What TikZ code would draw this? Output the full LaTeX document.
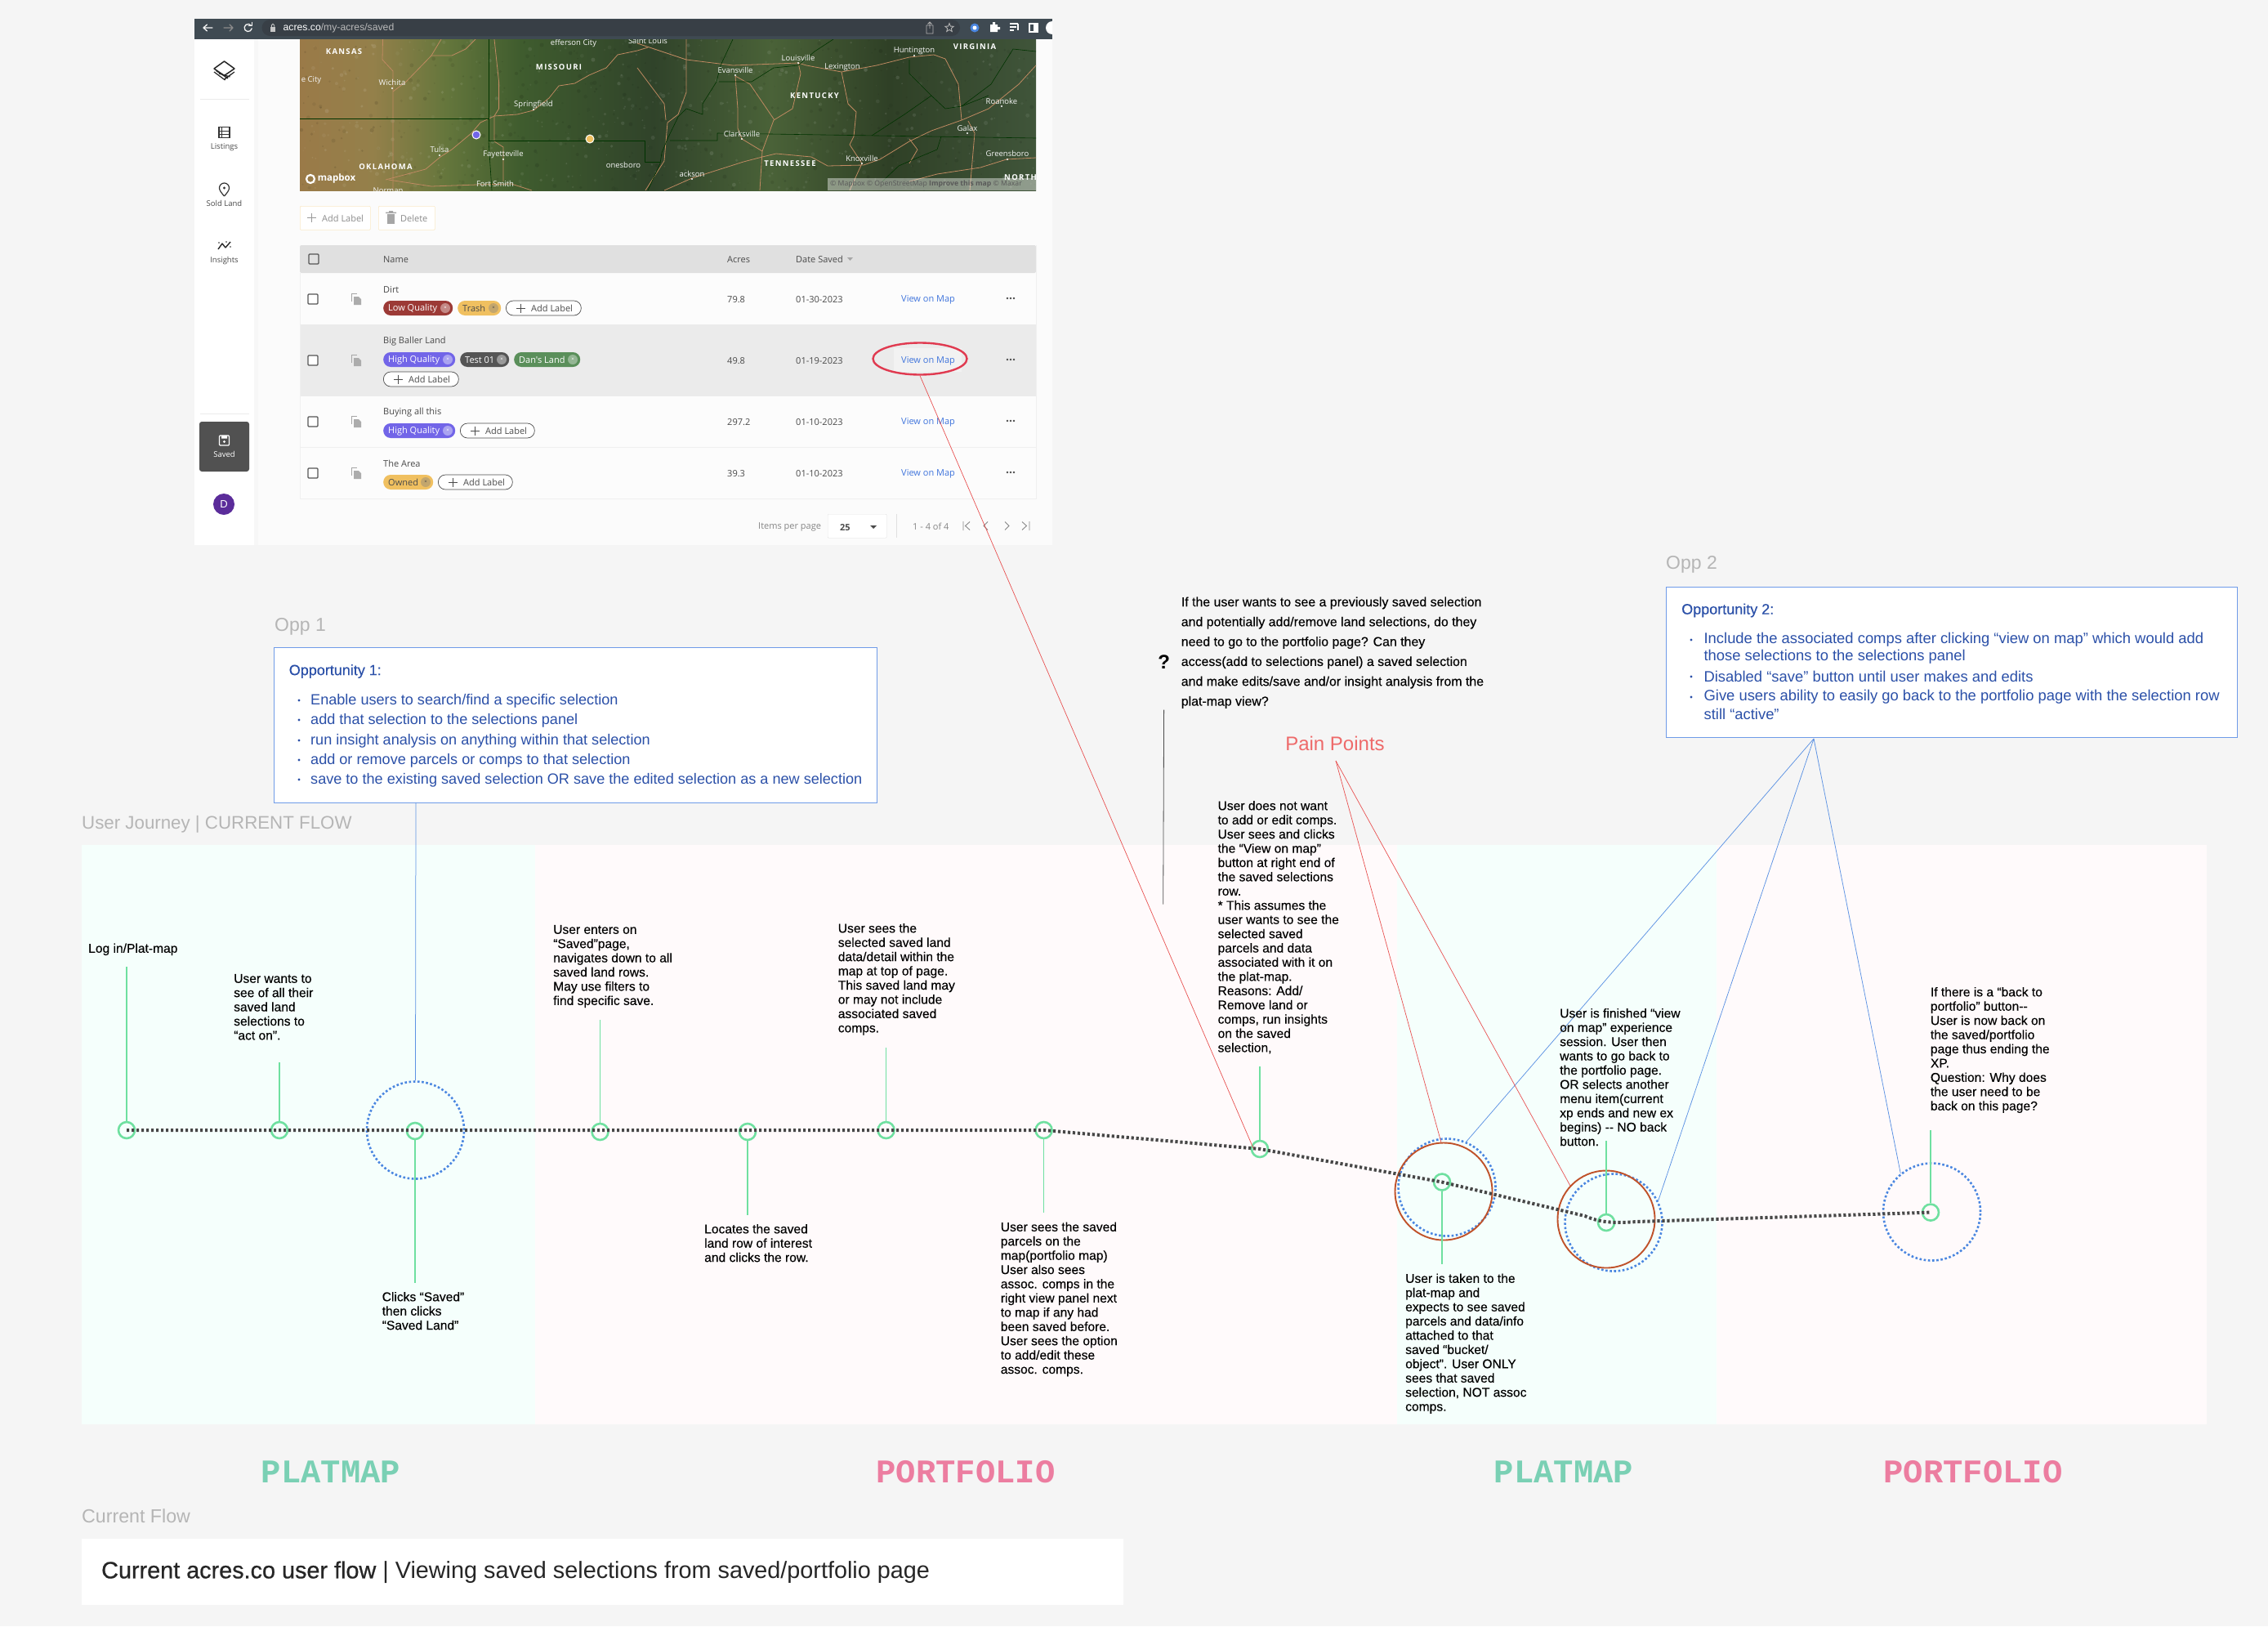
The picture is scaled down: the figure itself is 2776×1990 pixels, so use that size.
\documentclass[tikz,border=0pt]{standalone}
\usepackage{fontspec}
\usetikzlibrary{shapes.geometric,calc}
\setmainfont{Liberation Sans}
\newfontfamily\notef[FakeBold=0.25]{Liberation Sans}
\newfontfamily\captf[FakeBold=0.7]{Liberation Sans}
\newfontfamily\uifont{Open Sans}
\newfontfamily\statefont[LetterSpace=14]{Open Sans}
\newfontfamily\monof{Liberation Mono}
\definecolor{bg}{HTML}{F5F5F5}
\definecolor{mint}{HTML}{F5FFFC}
\definecolor{blush}{HTML}{FFFAFB}
\definecolor{oppblue}{HTML}{2B50A8}
\definecolor{oppline}{HTML}{6F9BE8}
\definecolor{labelgrey}{HTML}{B5B5B5}
\definecolor{stepgreen}{HTML}{6FE0A0}
\definecolor{dotblue}{HTML}{4A86E0}
\definecolor{burnt}{HTML}{C0522A}
\definecolor{painred}{HTML}{E85050}
\definecolor{painlabel}{HTML}{EE6A6A}
\definecolor{road}{HTML}{C08A62}
\definecolor{uitext}{HTML}{4A4A4A}
\definecolor{link}{HTML}{3F74DC}
\definecolor{lowq}{HTML}{9C3A36}
\definecolor{gold}{HTML}{F0C060}
\definecolor{violet}{HTML}{7265E8}
\definecolor{slate}{HTML}{555555}
\definecolor{leaf}{HTML}{5A8F5A}
\definecolor{chrome}{HTML}{3F4A52}
\definecolor{chromepill}{HTML}{383F46}
\definecolor{ringred}{HTML}{E03A50}
\definecolor{wordgreen}{HTML}{7AD0B4}
\definecolor{wordpink}{HTML}{EC7DA0}
\definecolor{avatarc}{HTML}{5B2C9A}
\definecolor{mapa}{HTML}{9A7A48}
\definecolor{mapb}{HTML}{94804A}
\definecolor{mapc}{HTML}{64763C}
\definecolor{mapd}{HTML}{3F5C2E}
\definecolor{mape}{HTML}{30432A}
\definecolor{mapf}{HTML}{4A6238}
\definecolor{mapg}{HTML}{2F4026}
\definecolor{maph}{HTML}{40553A}
\pgfdeclarehorizontalshading{mapshade}{100bp}{color(0bp)=(mapa);
 color(25bp)=(mapa); color(30bp)=(mapb); color(35bp)=(mapc); color(40bp)=(mapd);
 color(49bp)=(mape); color(57bp)=(mapf); color(65bp)=(mapg); color(75bp)=(maph); color(100bp)=(maph)}
\newcounter{nid}
\newcommand\tnode[3][]{\stepcounter{nid}\node (t\thenid) [#1] at (#2) {#3};}
\newcommand\uichip[7]{% x1,x2,y,fill,text colour,text,badge
 \stepcounter{nid}\node (chip\thenid) [chipbox,fill=#4,minimum width=#2pt-#1pt,anchor=west] at (#1,#3) {};
 \node (chipt\thenid) [font=\uifont\fontsize{11}{12}\selectfont,text=#5,anchor=west,inner sep=0,yshift=-.5pt] at ($(#1,#3)+(6,0)$) {#6};
 \node (chipx\thenid) [circle,fill=#7,inner sep=0,minimum size=12pt,text=#5,font=\uifont\fontsize{6}{6}\selectfont] at ($(#2,#3)+(-9,0)$) {×};
}
\newcommand\addlabel[3]{% x1,x2,y
 \stepcounter{nid}\node (add\thenid) [chipbox,draw=uitext,fill=white,line width=.7pt,minimum width=#2pt-#1pt,anchor=west] at (#1,#3) {};
 \node (addt\thenid) [font=\uifont\fontsize{11}{12}\selectfont,text=uitext,anchor=west,inner sep=0,yshift=-.5pt] at ($(#1,#3)+(31,0)$) {Add Label};
 \draw[uitext,line width=.9pt] ($(#1,#3)+(13,0)$) -- +(11,0) ($(#1,#3)+(18.5,-5.5)$) -- +(0,11);
}
\newcommand\rowbits[2]{% y of box, y of dots
 \stepcounter{nid}
 \node (cb\thenid) [draw=slate,line width=1.3pt,fill=white,rounded corners=1pt,minimum size=12pt,inner sep=0] at (383,#1) {};
 \fill[gray!65] (433,#1-3) -- (439,#1-3) -- (442,#1) -- (442,#1+7) -- (433,#1+7) -- cycle;
 \draw[gray!70,line width=.8pt] (430,#1+3) -- (430,#1-7) -- (437,#1-7);
 \fill[uitext] (1233,#2) circle (1.3) (1237,#2) circle (1.3) (1241,#2) circle (1.3);
}
\tikzset{
 x=1pt,y=-1pt,
 chipbox/.style={rounded corners=8.9pt,minimum height=18pt,inner sep=0},
 cell/.style={font=\uifont\fontsize{11}{12}\selectfont,text=uitext,anchor=west,inner sep=0,yshift=-.8pt},
 viewlink/.style={font=\uifont\fontsize{11}{12}\selectfont,text=link,anchor=west,inner sep=0,yshift=-1pt},
 side/.style={font=\uifont\fontsize{9.5}{11}\selectfont,text=uitext,inner sep=0},
 city/.style={font=\uifont\fontsize{9.5}{11}\selectfont,text=white!92!gray,inner sep=0},
 usstate/.style={font=\statefont\bfseries\fontsize{9.5}{11}\selectfont,text=white,inner sep=0},
 note/.style={anchor=north west,align=left,inner sep=0,text=black,yshift=1.2pt,font=\notef\fontsize{15.6}{17.42}\selectfont},
 sectionlbl/.style={anchor=west,inner sep=0,text=labelgrey},
 oppbox/.style={draw=oppline,fill=white,line width=1.3pt,inner sep=0,anchor=north west},
 opptxt/.style={anchor=west,inner sep=0,text=oppblue,font=\fontsize{18.1}{21}\selectfont,yshift=-1pt},
 opptxtb/.style={anchor=west,inner sep=0,text=oppblue,font=\fontsize{18.4}{21}\selectfont},
 opphead/.style={anchor=west,inner sep=0,text=oppblue,font=\notef\fontsize{18}{21}\selectfont},
 oppdot/.style={circle,fill=oppblue,inner sep=0,minimum size=3.4pt},
 stepdot/.style={circle,draw=stepgreen,line width=2.6pt,minimum size=20pt,inner sep=0},
 stepline/.style={draw=stepgreen,line width=1.5pt},
 flowline/.style={draw=black!72,line width=4pt,dash pattern=on 3.2pt off 2.8pt},
 dotring/.style={circle,draw=dotblue,line width=2.6pt,dash pattern=on 2.6pt off 2.6pt,minimum size=119pt,inner sep=0},
 painring/.style={circle,draw=burnt,line width=1.9pt,minimum size=119pt,inner sep=0},
 bluelink/.style={draw=dotblue!90,line width=.75pt},
 redlink/.style={draw=painred,line width=.7pt},
 bigword/.style={font=\monof\bfseries\fontsize{40.5}{44}\selectfont,inner sep=0},
 roadline/.style={road,line width=.8pt,line join=round},
 blackline/.style={black!80!green,line width=.6pt,line join=round},
}
\begin{document}
\begin{tikzpicture}
\useasboundingbox (0,0) rectangle (2776,1990);
\fill[bg] (0,0) rectangle (2776,1990);

%% ---------- app screenshot ----------
\fill[white!98.5!black] (238,22) rectangle (1288,667);
\fill[white] (238,48) rectangle (311,667);
\fill[black!3] (311,48) rectangle (316,667);
% map
\begin{scope}
 \clip (367,48) rectangle (1268,233);
 \shade[shading=mapshade] (367,48) rectangle (1268,233);
 \pgfmathsetseed{7}
 \foreach \k in {1,...,900}{
  \pgfmathsetmacro\px{367+rnd*901}
  \pgfmathsetmacro\py{48+rnd*185}
  \pgfmathsetmacro\pr{0.6+rnd*2}
  \pgfmathsetmacro\po{0.04+rnd*0.07}
  \ifodd\k\relax\fill[black,opacity=\po] (\px,\py) circle (\pr);\else\fill[white,opacity=\po] (\px,\py) circle (\pr);\fi
 }
 \draw[roadline] (468.5,48) -- (468,73) -- (481,87) -- (481,108) -- (481,233);
 \draw[roadline] (540,48) -- (528,68) -- (497,100) -- (481,112);
 \draw[roadline] (528,68) -- (553,68) -- (570,60) -- (582,48);
 \draw[roadline] (472,220) -- (521,207) -- (539,192) -- (553,183) -- (577,163) -- (588,150) -- (605,142) -- (633,140) -- (653,135) -- (672,120) -- (684,105) -- (703.5,102) -- (721,92) -- (742,83) -- (756,67) -- (780,62) -- (793,58);
 \draw[roadline] (605,48) -- (610.6,100) -- (610.6,133) -- (605,142) -- (605,173) -- (616,180) -- (616,222);
 \draw[roadline] (475.5,220) -- (528,228) -- (584,226) -- (626,225) -- (651,233);
 \draw[roadline] (780,53) -- (840,73) -- (897,80) -- (977,77) -- (987,80) -- (1030,88) -- (1073,80) -- (1113,70) -- (1143,67) -- (1157,72) -- (1173,103) -- (1177,147) -- (1140,160) -- (1113,173) -- (1077,195) -- (1057,202) -- (1013,203) -- (993,192) -- (950,188) -- (933,192) -- (910,198) -- (847,218) -- (813,233);
 \draw[roadline] (900,93) -- (903,133) -- (903,157) -- (908,170) -- (933,185) -- (947,147) -- (970,133) -- (980,90) -- (977,77);
 \draw[roadline] (1030,88) -- (1038,127) -- (1048,137) -- (1045,167) -- (1040,177) -- (1055,200) -- (1040,233);
 \draw[roadline] (1177,147) -- (1210,133) -- (1247,103) -- (1268,80);
 \draw[roadline] (1185,148) -- (1193,163) -- (1187,233);
 \draw[roadline] (1268,193) -- (1232,195) -- (1200,205) -- (1147,213) -- (1113,222);
 \draw[roadline] (840,48) -- (840,113) -- (830,140) -- (817,150) -- (813,197) -- (790,233);
 \draw[roadline] (780,83) -- (813,127) -- (815,147);
 \draw[roadline] (948,147) -- (918,103) -- (900,93);
 \draw[roadline] (1113,170) -- (1123,183) -- (1113,200);
 \draw[roadline] (933,185) -- (930,233);
 \draw[blackline] (367,145) -- (598,145) -- (598,48);
 \draw[blackline] (598,145) -- (598,172) -- (789,172) -- (789,198) -- (808,198);
 \draw[blackline] (598,172) -- (602,233);
 \draw[blackline] (897,48) -- (882,80) -- (877,100) -- (860,127) -- (860,140) -- (840,133) -- (830,143) -- (817,170) -- (810,187) -- (808,200) -- (793,233);
 \draw[blackline] (820,172) -- (878,172) -- (878,163) -- (1268,169);
 \draw[blackline] (1067,166) -- (1107,140) -- (1140,117) -- (1157,133) -- (1177,130) -- (1210,117);
 \draw[blackline] (1113,73) -- (1113,90) -- (1140,117);
 \draw[blackline] (1177,130) -- (1213,103) -- (1240,60) -- (1268,63);
 \draw[blackline] (1152,167) -- (1147,183) -- (1123,193) -- (1100,203) -- (1080,222);
 \draw[blackline] (880,100) -- (920,100) -- (947,83) -- (977,80) -- (997,63) -- (1020,48);
 \tnode[usstate]{421,63}{KANSAS}
 \tnode[city]{381,98}{e City}
 \tnode[city]{480,101}{Wichita}
 \tnode[usstate]{684,82}{MISSOURI}
 \tnode[city]{702,53}{efferson City}
 \tnode[city]{653,128}{Springfield}
 \tnode[city]{538,183}{Tulsa}
 \tnode[city]{616,189}{Fayetteville}
 \tnode[usstate]{472,204}{OKLAHOMA}
 \tnode[city]{475,233}{Norman}
 \tnode[city]{606,225}{Fort Smith}
 \tnode[city]{763,202}{onesboro}
 \tnode[city]{793,50}{Saint Louis}
 \tnode[city]{977,71}{Louisville}
 \tnode[city]{1031,82}{Lexington}
 \tnode[city]{900,86}{Evansville}
 \tnode[city]{1119,62}{Huntington}
 \tnode[usstate]{1193,57}{VIRGINIA}
 \tnode[usstate]{997,117}{KENTUCKY}
 \tnode[city]{1226,124}{Roanoke}
 \tnode[city]{1184,157}{Galax}
 \tnode[city]{908,164}{Clarksville}
 \tnode[usstate]{967,200}{TENNESSEE}
 \tnode[city]{1055,194}{Knoxville}
 \tnode[city]{1233,188}{Greensboro}
 \tnode[city]{847,213}{ackson}
 \tnode[usstate,anchor=west]{1229,217}{NORTH}
 \fill[white] (480,108) circle (1.2) (1119,68) circle (1.2) (977,77) circle (1.2) (900,92) circle (1.2) (908,170) circle (1.2) (1055,200) circle (1.2) (1184,163) circle (1.2) (1233,195) circle (1.2) (538,190) circle (1.2) (616,195) circle (1.2) (653,134) circle (1.2) (1226,130) circle (1.2) (847,219) circle (1.2);
 \fill[white,opacity=.42] (1013,218) rectangle (1268,233);
 \tnode[anchor=west,inner sep=0,text=black!65,font=\uifont\fontsize{8.7}{10}\selectfont]{1016,225.5}{© Mapbox © OpenStreetMap \textbf{Improve this map} © Maxar}
\end{scope}
\node (pinA) [circle,fill=violet,draw=white,line width=1pt,minimum size=10pt,inner sep=0] at (583,165) {};
\node (pinB) [circle,fill=gold,draw=white,line width=1pt,minimum size=10pt,inner sep=0] at (722,170) {};
\node (mbx) [circle,draw=white,line width=2.2pt,minimum size=10pt,inner sep=0] at (380,219) {};
\tnode[inner sep=0,text=white,font=\uifont\bfseries\fontsize{11.5}{13}\selectfont]{412,219}{mapbox}
% browser toolbar
\fill[chrome] (238,22) rectangle (1288,48);
\fill[black!5] (238,21.5) rectangle (1288,22.5);
\fill[chromepill,rounded corners=10pt] (320.5,24) rectangle (1175,44);
\begin{scope}[line width=1.3pt,white!90!gray,line cap=round,line join=round]
 \draw (249,34) -- (260,34) (253.5,30) -- (249,34) -- (253.5,38);
 \draw[gray!90] (274,34) -- (285,34) (281,30) -- (285,34) -- (281,38);
 \draw (303.7,34) ++(10:4.6) arc (10:320:4.6);
 \draw (308.3,27.5) -- (308.3,31.5) -- (304.3,31.5);
\end{scope}
\fill[gray!45] (331,33) rectangle (337,39);
\draw[gray!45,line width=.9pt] (332.3,33) -- (332.3,31) arc (180:360:1.7) -- (335.7,33);
\tnode[anchor=west,inner sep=0,font=\fontsize{12.2}{14}\selectfont]{346.5,34.5}{\textcolor{white}{acres.co}\textcolor{gray!55}{/my-acres/saved}}
\draw[gray!60,line width=.8pt] (1134,31) rectangle (1142,41) (1138,35) -- (1138,27) (1135.5,29.5) -- (1138,27) -- (1140.5,29.5);
\node (favstar) [star,star points=5,star point ratio=2.3,draw=gray!60,line width=.9pt,inner sep=0,minimum size=11pt] at (1162,34) {};
\node (ext1) [circle,fill=dotblue,inner sep=0,minimum size=11pt] at (1193,34) {};
\node (ext1b) [circle,fill=white,inner sep=0,minimum size=5pt] at (1193,34) {};
\fill[white] (1212,30) rectangle (1221,39) (1215,27) rectangle (1218,30) (1221,33) rectangle (1224,36);
\draw[white,line width=1.1pt] (1236,29) -- (1246,29) (1236,33) -- (1244,33) (1236,37) -- (1241,37) (1246,29) -- (1246,37);
\draw[white,line width=1.4pt] (1260,29) rectangle (1270,39);
\fill[white] (1265,29) rectangle (1270,39);
\begin{scope}
 \clip (1280,22) rectangle (1288,48);
 \fill[white] (1288,34) circle (8);
\end{scope}
% buttons
\node (btnAdd) [draw=gold!35,fill=white,line width=.7pt,rounded corners=1pt,anchor=north west,minimum width=86pt,minimum height=29pt,inner sep=0] at (367,252) {};
\node (btnDel) [draw=gold!35,fill=white,line width=.7pt,rounded corners=1pt,anchor=north west,minimum width=69pt,minimum height=29pt,inner sep=0] at (463,252) {};
\draw[gray!80,line width=1pt] (376,266.5) -- (387,266.5) (381.5,261) -- (381.5,272);
\tnode[cell,text=gray!90]{394,266.5}{Add Label}
\fill[gray!70] (474,262) rectangle (483,274);
\fill[gray!70] (472,259.5) rectangle (485,261) (476,258) rectangle (481,259.5);
\tnode[cell,text=gray!90]{490,266.5}{Delete}
% table
\fill[white!99!black] (367,300) rectangle (1268,610);
\fill[black!12,rounded corners=2pt] (367,300) rectangle (1268,334);
\fill[black!8] (367,397) rectangle (1268,485);
\draw[black!6,line width=.8pt] (367,334) -- (367,610) -- (1268,610) -- (1268,300);
\draw[black!6,line width=.8pt] (367,547.5) -- (1268,547.5);
\node (hdrBox) [draw=slate,line width=1.3pt,rounded corners=1pt,minimum size=12pt,inner sep=0] at (384,317) {};
\tnode[cell]{469,317}{Name}
\tnode[cell]{890,317}{Acres}
\tnode[cell]{974,317}{Date Saved}
\fill[gray!70] (1037,315) -- (1044,315) -- (1040.5,319) -- cycle;
\rowbits{366}{365}
\rowbits{441}{440}
\rowbits{516}{515}
\rowbits{579}{578}
\tnode[cell]{469,354}{Dirt}
\tnode[cell]{469,417}{Big Baller Land}
\tnode[cell]{469,504}{Buying all this}
\tnode[cell]{469,567}{The Area}
\uichip{469}{554}{377}{lowq}{white}{Low Quality}{lowq!60!white}
\uichip{560}{613}{377}{gold}{uitext}{Trash}{gold!60!gray}
\addlabel{619}{711}{377}
\uichip{469}{557}{440}{violet}{white}{High Quality}{violet!60!white}
\uichip{563}{623}{440}{slate}{white}{Test 01}{slate!60!white}
\uichip{629}{710}{440}{leaf}{white}{Dan's Land}{leaf!65!white}
\addlabel{469}{561}{464}
\uichip{469}{557}{527}{violet}{white}{High Quality}{violet!60!white}
\addlabel{563}{654}{527}
\uichip{469}{530}{590}{gold}{uitext}{Owned}{gold!60!gray}
\addlabel{536}{627}{590}
\tnode[cell]{890,366}{79.8}
\tnode[cell]{890,441}{49.8}
\tnode[cell]{890,516}{297.2}
\tnode[cell]{890,579}{39.3}
\tnode[cell]{974,366}{01-30-2023}
\tnode[cell]{974,441}{01-19-2023}
\tnode[cell]{974,516}{01-10-2023}
\tnode[cell]{974,579}{01-10-2023}
\fill[black!5] (1094,426) rectangle (1177,455);
\tnode[viewlink]{1103,366}{View on Map}
\tnode[viewlink]{1103,441}{View on Map}
\tnode[viewlink]{1103,516}{View on Map}
\tnode[viewlink]{1103,579}{View on Map}
\node (vomRing) [ellipse,draw=ringred,line width=2.4pt,minimum width=115pt,minimum height=39pt,inner sep=0] at (1126,439) {};
% pagination
\tnode[cell,text=gray!95]{928,644}{Items per page}
\node (pgSel) [draw=black!12,fill=white,rounded corners=1pt,anchor=north west,minimum width=72pt,minimum height=29pt,inner sep=0] at (1013,629) {};
\tnode[cell]{1028,644.5}{\textbf{25}}
\fill[uitext] (1065,643) -- (1073,643) -- (1069,647) -- cycle;
\draw[black!12,line width=.7pt] (1097,629) -- (1097,658);
\tnode[cell,text=gray!95]{1117,644}{1 - 4 of 4}
\draw[gray!95,line width=.9pt] (1179,638) -- (1179,649) (1187,638.5) -- (1181.5,643.5) -- (1187,648.5);
\draw[gray!95,line width=.9pt] (1209,638.5) -- (1204,643.5) -- (1209,648.5);
\draw[gray!95,line width=.9pt] (1230,638.5) -- (1235,643.5) -- (1230,648.5);
\draw[gray!95,line width=.9pt] (1251,638.5) -- (1256.5,643.5) -- (1251,648.5) (1260,638) -- (1260,649);
% sidebar
\draw[black!8,line width=.8pt] (245,121) -- (305,121) (245,506) -- (305,506);
\begin{scope}[line join=round]
 \draw[black!85,line width=1.5pt] (274.5,75) -- (287,84) -- (274.5,92.5) -- (262,84) -- cycle;
 \draw[black!85,line width=1.2pt] (262,88) -- (275.5,98) (264.5,86.5) -- (279,96) (268,90) -- (281.5,94) (283,91) -- (275,97) (287,88) -- (274.5,97);
\end{scope}
\draw[black!80,line width=1.1pt] (268,155.5) rectangle (281,168.5);
\draw[black!80,line width=.8pt] (268,160) -- (281,160) (268,164) -- (281,164) (271.5,155.5) -- (271.5,168.5);
\tnode[side]{274.5,180}{Listings}
\draw[black!80,line width=1.2pt] (274.5,240) .. controls (271,236) and (268.5,233) .. (268.5,230) arc (180:360:6) .. controls (280.5,233) and (278,236) .. (274.5,240);
\fill[black!80] (274.5,230) circle (1.6);
\tnode[side]{274.5,249}{Sold Land}
\draw[black!85,line width=1.4pt,line join=round] (267,305) -- (272,298) -- (276,303) -- (282,296);
\fill[black!85] (268,297) circle (.9) (277,296) circle (.9) (282,302) circle (.9);
\tnode[side]{274.5,319}{Insights}
\fill[slate!95!black,rounded corners=3pt] (244,516) rectangle (305,577);
\draw[white,line width=1.1pt,rounded corners=1pt] (268.5,533) rectangle (280.5,545);
\fill[white] (274.5,540.5) circle (1.6) (271,533) rectangle (278,536.5);
\tnode[side,text=white]{274.5,556}{Saved}
\node (avatar) [circle,fill=avatarc,minimum size=26pt,inner sep=0,text=white,font=\fontsize{13}{15}\selectfont] at (274,617) {D};

%% ---------- journey bands ----------
\fill[mint] (99.5,1034) rectangle (655,1743);
\fill[blush] (655,1034) rectangle (1710,1743);
\fill[mint] (1710,1034) rectangle (2101,1743);
\fill[blush] (2101,1034) rectangle (2701,1743);

%% ---------- section labels and text boxes ----------
\tnode[sectionlbl,font=\fontsize{23}{26}\selectfont]{336,766.5}{Opp 1}
\tnode[sectionlbl,font=\fontsize{23}{26}\selectfont]{2039,690.5}{Opp 2}
\tnode[sectionlbl,font=\fontsize{22.3}{26}\selectfont]{100,1008.5}{User Journey | CURRENT FLOW}
\tnode[sectionlbl,font=\fontsize{23.2}{26}\selectfont]{100,1855}{Current Flow}

\node (opp1) [oppbox,minimum width=738pt,minimum height=190pt] at (335,792) {};
\tnode[opphead]{353.6,821.5}{Opportunity 1:}
\tnode[oppdot]{366,857}{}\tnode[opptxt]{380,857}{Enable users to search/find a specific selection}
\tnode[oppdot]{366,881}{}\tnode[opptxt]{380,881}{add that selection to the selections panel}
\tnode[oppdot]{366,906}{}\tnode[opptxt]{380,906}{run insight analysis on anything within that selection}
\tnode[oppdot]{366,930}{}\tnode[opptxt]{380,930}{add or remove parcels or comps to that selection}
\tnode[oppdot]{366,954}{}\tnode[opptxt]{380,954}{save to the existing saved selection OR save the edited selection as a new selection}
\node (opp2) [oppbox,minimum width=699pt,minimum height=184pt] at (2039,718) {};
\tnode[opphead]{2058,747}{Opportunity 2:}
\tnode[oppdot]{2070,783}{}\tnode[opptxtb]{2085.4,783}{Include the associated comps after clicking “view on map” which would add}
\tnode[opptxtb]{2085.4,804}{those selections to the selections panel}
\tnode[oppdot]{2070,828}{}\tnode[opptxtb]{2085.4,828}{Disabled “save” button until user makes and edits}
\tnode[oppdot]{2070,853}{}\tnode[opptxtb]{2085.4,853}{Give users ability to easily go back to the portfolio page with the selection row}
\tnode[opptxtb]{2085.4,873.5}{still “active”}

\node (qmark) [inner sep=0,font=\bfseries\fontsize{24}{26}\selectfont] at (1424.6,810) {?};
\node (qtext) [note,font=\notef\fontsize{15.9}{24.3}\selectfont] at (1445.6,731.5) {If the user wants to see a previously saved selection\\and potentially add/remove land selections, do they\\need to go to the portfolio page? Can they\\access(add to selections panel) a saved selection\\and make edits/save and/or insight analysis from the\\plat-map view?};
\node (pain) [inner sep=0,text=painlabel,font=\fontsize{24}{26}\selectfont] at (1634,909.5) {Pain Points};
\coordinate (qtop) at (1424.6,868.6);
\coordinate (qend) at (1423.7,1106.6);
\draw[black!70,line width=.8pt] (qtop) -- (qend);

%% ---------- timeline nodes ----------
\node (s1) [stepdot] at (155,1383) {};
\node (s2) [stepdot] at (342,1383) {};
\node (s3) [stepdot] at (508,1384) {};
\node (s4) [stepdot] at (734.5,1385) {};
\node (s5) [stepdot] at (915,1385) {};
\node (s6) [stepdot] at (1084.6,1383) {};
\node (s7) [stepdot] at (1277.6,1383) {};
\node (s8) [stepdot] at (1542,1406) {};
\node (s9) [stepdot] at (1765,1446.5) {};
\node (s10) [stepdot] at (1966,1496) {};
\node (s11) [stepdot] at (2363,1483.6) {};
\node (c1) [dotring] at (508.5,1383) {};
\node (c2) [dotring] at (1771,1453) {};
\node (c3) [dotring] at (1975,1496) {};
\node (c4) [dotring] at (2364.5,1483) {};
\node (o1) [painring] at (1767,1458) {};
\node (o2) [painring] at (1966,1492) {};

\coordinate (bendA) at (1940,1488);
\coordinate (bendB) at (2003,1495);
\draw[flowline] (s1.center) -- (s7.center) -- (s8.center) -- (s9.center) -- (bendA) .. controls (1958,1496) and (1975,1497) .. (bendB) -- (s11.center);

\coordinate (u1) at (155,1183);
\coordinate (u2) at (342,1300);
\coordinate (d3) at (508,1570);
\coordinate (u4) at (734.5,1248);
\coordinate (d5) at (915,1487);
\coordinate (u6) at (1084.6,1281.6);
\coordinate (d7) at (1277.6,1484);
\coordinate (u8) at (1542,1304.6);
\coordinate (d9) at (1765,1547);
\coordinate (u10) at (1966,1396);
\coordinate (u11) at (2363,1383);
\draw[stepline] (s1) -- (u1);
\draw[stepline] (s2) -- (u2);
\draw[stepline] (s3) -- (d3);
\draw[stepline] (s4) -- (u4);
\draw[stepline] (s5) -- (d5);
\draw[stepline] (s6) -- (u6);
\draw[stepline] (s7) -- (d7);
\draw[stepline] (s8) -- (u8);
\draw[stepline] (s9) -- (d9);
\draw[stepline] (s10) -- (u10);
\draw[stepline] (s11) -- (u11);

%% ---------- connectors to boxes ----------
\coordinate (opp1tail) at (509,982);
\draw[bluelink] (opp1tail) -- (c1.north);
\coordinate (opp2tail) at (2220,904);
\draw[bluelink] (opp2tail) -- (c2.67);
\draw[bluelink] (opp2tail) -- (c3.26);
\draw[bluelink] (opp2tail) -- (c4.129);
\coordinate (paintail) at (1635,931);
\draw[redlink] (paintail) -- (o1.93);
\draw[redlink] (paintail) -- (o2.137);
\coordinate (vomEnd) at (1534,1405);
\draw[redlink] (vomRing.south) -- (vomEnd);

%% ---------- step notes ----------
\node (n1) [note] at (108,1155.5) {Log in/Plat-map};
\node (n2) [note] at (286,1193) {User wants to\\see of all their\\saved land\\selections to\\“act on”.};
\node (n3) [note] at (467.5,1582) {Clicks “Saved”\\then clicks\\“Saved Land”};
\node (n4) [note] at (677,1133) {User enters on\\“Saved”page,\\navigates down to all\\saved land rows.\\May use filters to\\find specific save.};
\node (n5) [note] at (862,1499) {Locates the saved\\land row of interest\\and clicks the row.};
\node (n6) [note] at (1025.6,1131) {User sees the\\selected saved land\\data/detail within the\\map at top of page.\\This saved land may\\or may not include\\associated saved\\comps.};
\node (n7) [note] at (1224.6,1496.5) {User sees the saved\\parcels on the\\map(portfolio map)\\User also sees\\assoc. comps in the\\right view panel next\\to map if any had\\been saved before.\\User sees the option\\to add/edit these\\assoc. comps.};
\node (n8) [note] at (1490.4,981) {User does not want\\to add or edit comps.\\User sees and clicks\\the “View on map”\\button at right end of\\the saved selections\\row.\\* This assumes the\\user wants to see the\\selected saved\\parcels and data\\associated with it on\\the plat-map.\\Reasons: Add/\\Remove land or\\comps, run insights\\on the saved\\selection,};
\node (n9) [note] at (1720,1559.5) {User is taken to the\\plat-map and\\expects to see saved\\parcels and data/info\\attached to that\\saved “bucket/\\object”. User ONLY\\sees that saved\\selection, NOT assoc\\comps.};
\node (n10) [note] at (1909,1235) {User is finished “view\\on map” experience\\session. User then\\wants to go back to\\the portfolio page.\\OR selects another\\menu item(current\\xp ends  and new ex\\begins) -{}- NO back\\button.};
\node (n11) [note] at (2362.7,1209) {If there is a “back to\\portfolio” button-{}-\\User is now back on\\the saved/portfolio\\page thus ending the\\XP.\\Question: Why does\\the user need to be\\back on this page?};

%% ---------- bottom labels ----------
\node (w2) [bigword,text=wordgreen] at (405,1801) {PLATMAP};
\node (w3) [bigword,text=wordpink] at (1182,1801) {PORTFOLIO};
\node (w4) [bigword,text=wordgreen] at (1914,1801) {PLATMAP};
\node (w5) [bigword,text=wordpink] at (2415,1801) {PORTFOLIO};
\node (capt) [fill=white,anchor=north west,minimum width=1275pt,minimum height=81pt,inner sep=0] at (100,1883) {};
\node (captt) [anchor=west,inner sep=0,text=black!85,font=\fontsize{28.8}{32}\selectfont] at (124,1924) {{\captf Current acres.co user flow} | Viewing saved selections from saved/portfolio page};
\end{tikzpicture}
\end{document}
